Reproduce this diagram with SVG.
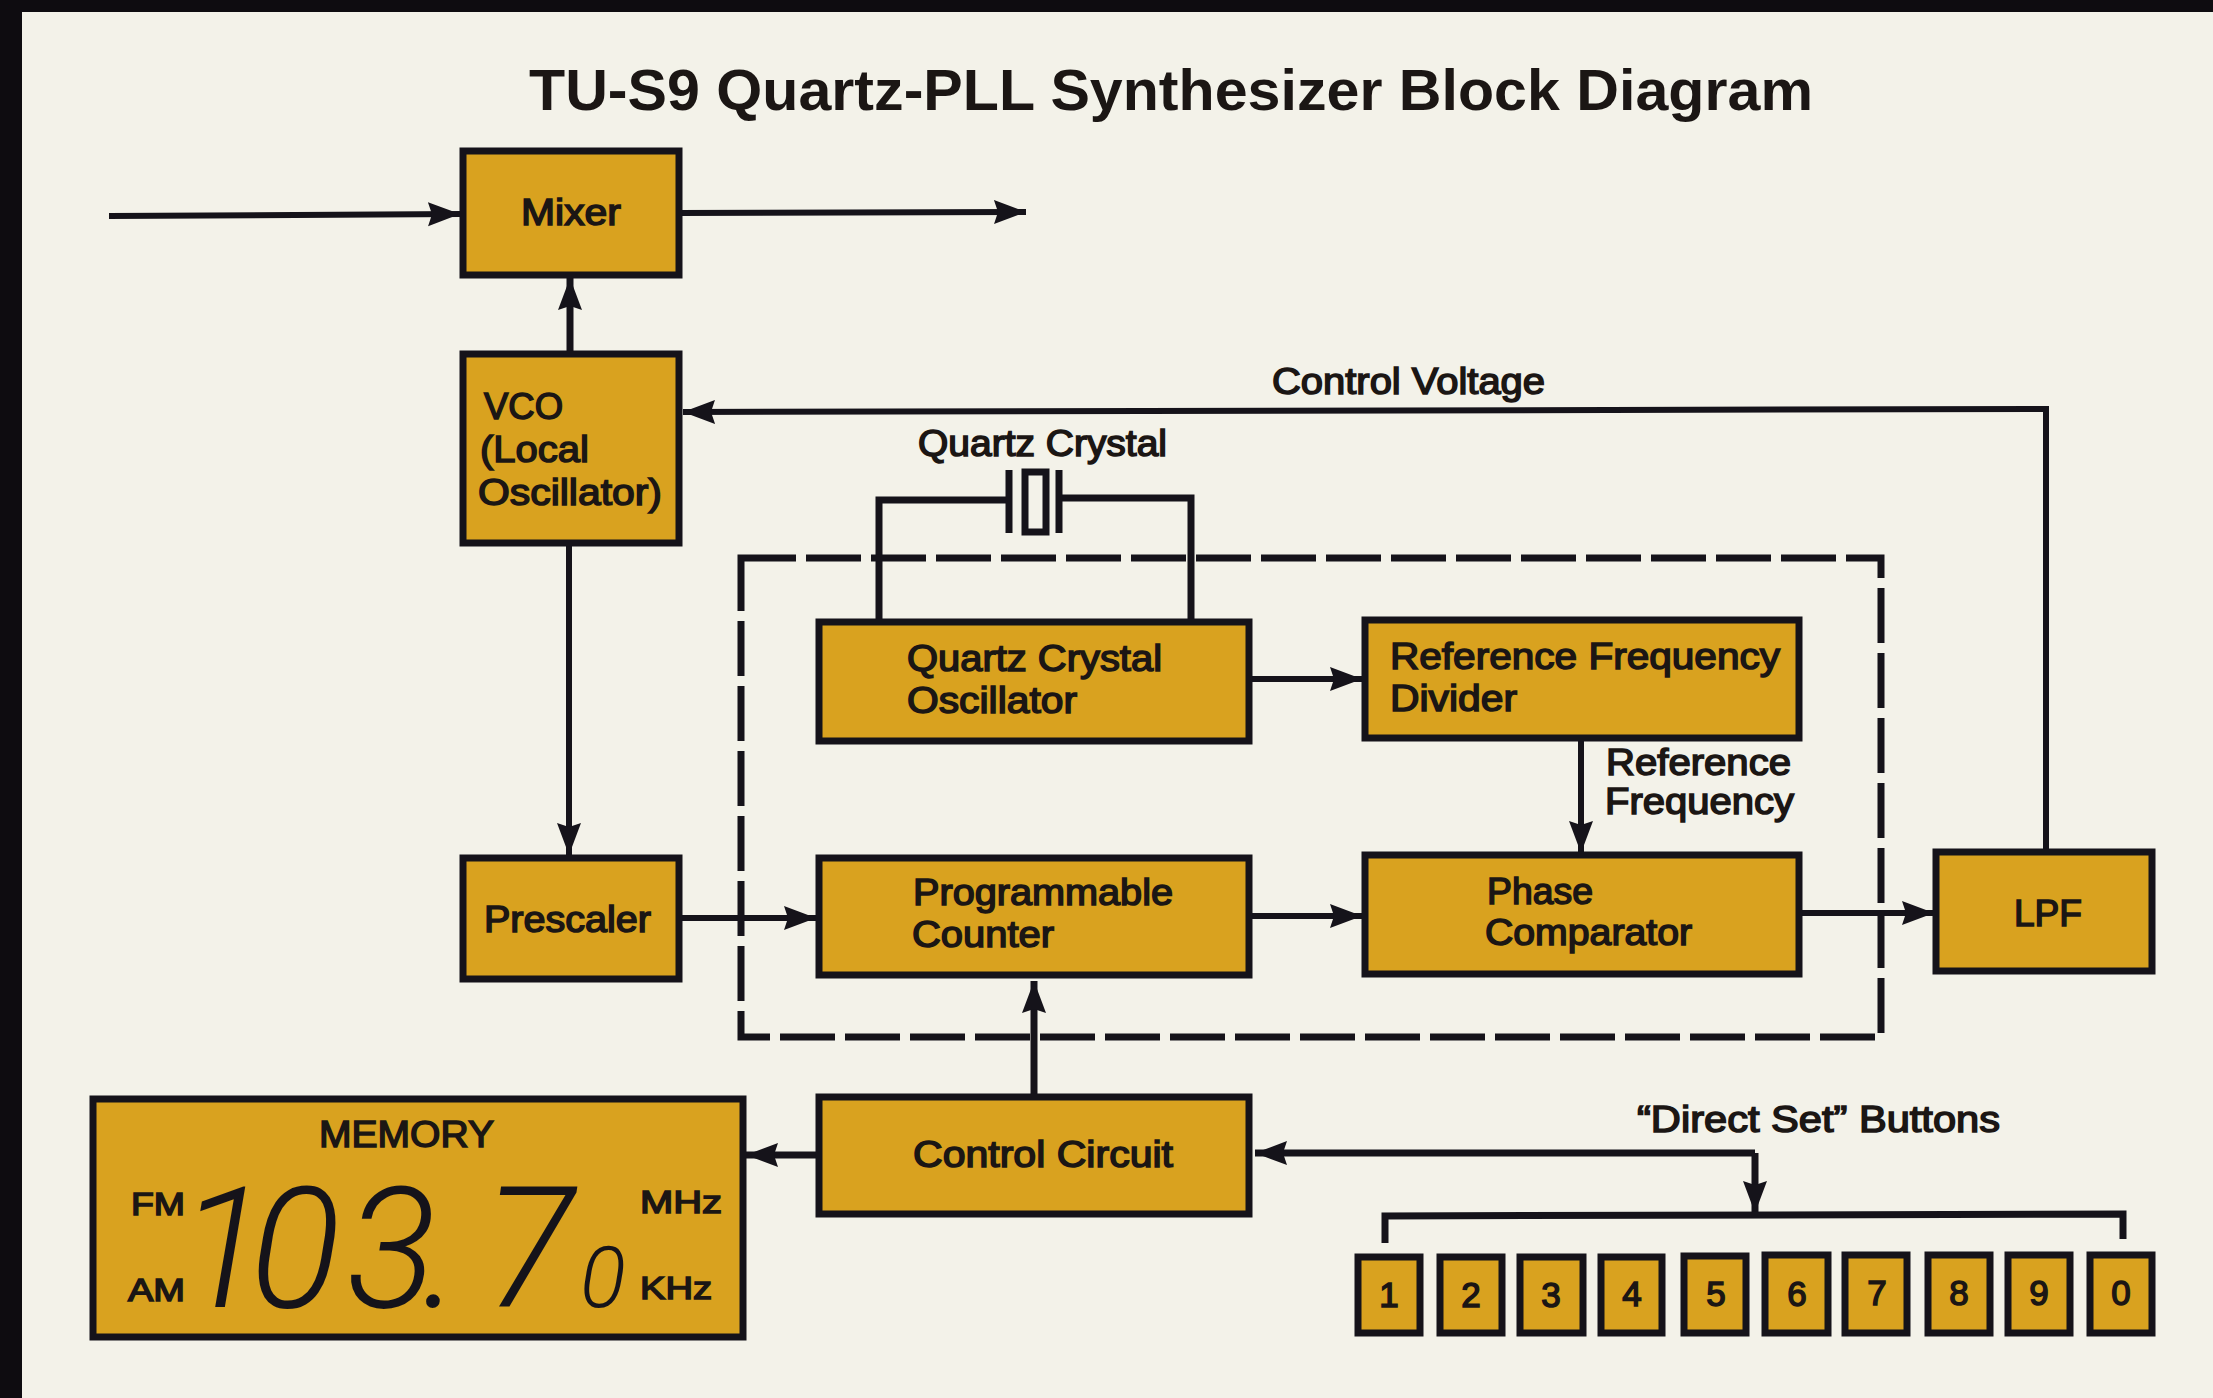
<svg xmlns="http://www.w3.org/2000/svg" width="2213" height="1398" viewBox="0 0 2213 1398">
<style>
.b{fill:#d9a21f;stroke:#15131a;stroke-width:7}
.k{fill:#d9a21f;stroke:#15131a;stroke-width:7}
text{font-family:"Liberation Sans",Arial,sans-serif;fill:#1b1614;stroke:#1b1614;stroke-width:1.5;font-size:36px}
.t{font-size:58px;font-weight:bold;stroke-width:0}
.n{text-anchor:middle;font-size:35px}
.s{font-size:31px}
.d{font-family:Roboto,"Liberation Sans",sans-serif;font-style:italic;font-weight:300;font-size:168px;stroke-width:0;fill:#15131a}
.l{fill:none;stroke:#15131a;stroke-width:6;stroke-linejoin:miter}
.h{stroke-width:7}
.a{marker-end:url(#ah)}
.dash{fill:none;stroke:#15131a;stroke-width:7;stroke-dasharray:55 10}
</style>
<defs>
<marker id="ah" markerUnits="userSpaceOnUse" markerWidth="36" markerHeight="28" refX="32" refY="14" orient="auto"><path d="M0 2L32 14L0 26L4 14Z" fill="#15131a"/></marker>
</defs>
<rect width="2213" height="1398" fill="#0e0c10"/>
<rect x="22" y="12" width="2191" height="1386" fill="#f3f2e9"/>
<text class="t" x="529" y="110" textLength="1284" lengthAdjust="spacingAndGlyphs">TU-S9 Quartz-PLL Synthesizer Block Diagram</text>

<g id="connectors">
<path class="l a" d="M109 216L460 214"/>
<path class="l a" d="M679 213L1026 212"/>
<path class="l a h" d="M570 354V278"/>
<path class="l a" d="M569 543V855"/>
<path class="l a" d="M679 918H816"/>
<path class="l a" d="M1249 679H1362"/>
<path class="l a" d="M1581 738V853"/>
<path class="l a" d="M1249 916H1362"/>
<path class="l a" d="M1799 913H1934"/>
<path class="l a" d="M2046 852V409L683 412"/>
<path class="l h" d="M879 622V500H1009M1059 498H1191V622"/>
<path class="l h" d="M1009 470V533M1059 470V533"/>
<rect class="l h" x="1025" y="472" width="21" height="60"/>
<rect class="dash" x="741" y="558" width="1140" height="479"/>
<path class="l a h" d="M1034 1097V981"/>
<path class="l a h" d="M819 1155H746"/>
<path class="l a h" d="M1755 1153H1255"/>
<path class="l a h" d="M1755 1153V1213"/>
<path class="l h" d="M1385 1243V1216L2123 1214V1239"/>
</g>

<g id="mixer"><rect class="b" x="463" y="151" width="216" height="124"/><text x="521" y="225" textLength="100" lengthAdjust="spacingAndGlyphs">Mixer</text></g>
<g id="vco"><rect class="b" x="463" y="354" width="216" height="189"/>
<text x="484" y="419" textLength="79" lengthAdjust="spacingAndGlyphs">VCO</text>
<text x="480" y="462" textLength="109" lengthAdjust="spacingAndGlyphs">(Local</text>
<text x="478" y="505" textLength="184" lengthAdjust="spacingAndGlyphs">Oscillator)</text></g>
<g id="prescaler"><rect class="b" x="463" y="858" width="216" height="121"/><text x="484" y="932" textLength="167" lengthAdjust="spacingAndGlyphs">Prescaler</text></g>
<g id="quartz-osc"><rect class="b" x="819" y="622" width="430" height="119"/>
<text x="907" y="671" textLength="255" lengthAdjust="spacingAndGlyphs">Quartz Crystal</text>
<text x="907" y="713" textLength="170" lengthAdjust="spacingAndGlyphs">Oscillator</text></g>
<g id="ref-divider"><rect class="b" x="1365" y="620" width="434" height="118"/>
<text x="1390" y="669" textLength="390" lengthAdjust="spacingAndGlyphs">Reference Frequency</text>
<text x="1390" y="711" textLength="127" lengthAdjust="spacingAndGlyphs">Divider</text></g>
<g id="prog-counter"><rect class="b" x="819" y="858" width="430" height="117"/>
<text x="913" y="905" textLength="260" lengthAdjust="spacingAndGlyphs">Programmable</text>
<text x="912" y="947" textLength="142" lengthAdjust="spacingAndGlyphs">Counter</text></g>
<g id="phase-comp"><rect class="b" x="1365" y="855" width="434" height="119"/>
<text x="1487" y="904" textLength="106" lengthAdjust="spacingAndGlyphs">Phase</text>
<text x="1485" y="945" textLength="207" lengthAdjust="spacingAndGlyphs">Comparator</text></g>
<g id="lpf"><rect class="b" x="1936" y="852" width="216" height="119"/><text x="2014" y="926" textLength="68" lengthAdjust="spacingAndGlyphs">LPF</text></g>
<g id="control"><rect class="b" x="819" y="1097" width="430" height="117"/><text x="913" y="1167" textLength="260" lengthAdjust="spacingAndGlyphs">Control Circuit</text></g>

<g id="labels">
<text x="1272" y="394" textLength="273" lengthAdjust="spacingAndGlyphs">Control Voltage</text>
<text x="918" y="456" textLength="249" lengthAdjust="spacingAndGlyphs">Quartz Crystal</text>
<text x="1606" y="775" textLength="185" lengthAdjust="spacingAndGlyphs">Reference</text>
<text x="1605" y="814" textLength="189" lengthAdjust="spacingAndGlyphs">Frequency</text>
<text x="1637" y="1132" textLength="363" lengthAdjust="spacingAndGlyphs">“Direct Set” Buttons</text>
</g>

<g id="memory"><rect class="b" x="93" y="1099" width="650" height="238"/>
<text x="319" y="1147" textLength="175" lengthAdjust="spacingAndGlyphs">MEMORY</text>
<text class="s" x="131" y="1215" textLength="54" lengthAdjust="spacingAndGlyphs">FM</text>
<text class="s" x="128" y="1301" textLength="57" lengthAdjust="spacingAndGlyphs">AM</text>
<text class="s" x="640" y="1213" textLength="82" lengthAdjust="spacingAndGlyphs">MHz</text>
<text class="s" x="640" y="1299" textLength="72" lengthAdjust="spacingAndGlyphs">KHz</text>
<text class="d" x="178 250 346 422 484" y="1307">103.7</text>
<text class="d" style="font-size:85px" x="580" y="1307">0</text>
</g>

<g id="btn-1"><rect class="k" x="1358" y="1257" width="62" height="76"/><text class="n" x="1389" y="1307">1</text></g>
<g id="btn-2"><rect class="k" x="1440" y="1257" width="62" height="76"/><text class="n" x="1471" y="1307">2</text></g>
<g id="btn-3"><rect class="k" x="1520" y="1257" width="63" height="76"/><text class="n" x="1551" y="1307">3</text></g>
<g id="btn-4"><rect class="k" x="1601" y="1257" width="61" height="76"/><text class="n" x="1632" y="1306">4</text></g>
<g id="btn-5"><rect class="k" x="1684" y="1256" width="62" height="77"/><text class="n" x="1716" y="1306">5</text></g>
<g id="btn-6"><rect class="k" x="1765" y="1255" width="63" height="78"/><text class="n" x="1797" y="1306">6</text></g>
<g id="btn-7"><rect class="k" x="1845" y="1255" width="62" height="78"/><text class="n" x="1877" y="1305">7</text></g>
<g id="btn-8"><rect class="k" x="1928" y="1255" width="62" height="78"/><text class="n" x="1959" y="1305">8</text></g>
<g id="btn-9"><rect class="k" x="2008" y="1255" width="62" height="78"/><text class="n" x="2039" y="1305">9</text></g>
<g id="btn-0"><rect class="k" x="2090" y="1255" width="62" height="78"/><text class="n" x="2121" y="1305">0</text></g>
</svg>
